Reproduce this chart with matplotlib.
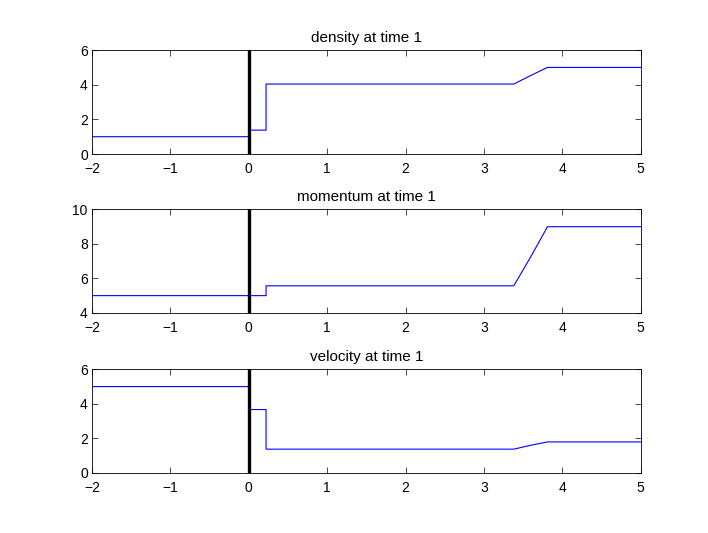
import matplotlib.pyplot as plt

plt.rcParams['font.family'] = ['Liberation Sans', 'DejaVu Sans']
plt.rcParams['axes.unicode_minus'] = True

# profiles at time 1 (piecewise)
x_vals = [-2, 0, 0, 0.22, 0.22, 3.38, 3.59, 3.81, 5]
density = [1.0, 1.0, 1.38, 1.38, 4.04, 4.04, 4.52, 5.0, 5.0]
momentum = [5.0, 5.0, 5.0, 5.0, 5.57, 5.57, 7.2, 9.0, 9.0]
velocity = [5.0, 5.0, 3.67, 3.67, 1.37, 1.37, 1.59, 1.79, 1.79]

titles = ['density at time 1', 'momentum at time 1', 'velocity at time 1']
y_limits = [(0, 6), (4, 10), (0, 6)]
y_ticks = [[0, 2, 4, 6], [4, 6, 8, 10], [0, 2, 4, 6]]
x_ticks = list(range(-2, 6))

fig = plt.figure(figsize=(7.08, 5.33), dpi=100)
# axes rectangles [left, bottom, width, height] in figure fractions
rects = [[0.13, 0.711, 0.775, 0.195],
         [0.13, 0.413, 0.775, 0.194],
         [0.13, 0.113, 0.775, 0.194]]

for rect, series, title, ylim, yt in zip(rects, [density, momentum, velocity], titles, y_limits, y_ticks):
    ax = fig.add_axes(rect)
    ax.plot(x_vals, series, color='#0000ff', lw=0.8)
    ax.axvline(0, color='k', lw=2.4)
    ax.set_xlim(-2, 5)
    ax.set_ylim(*ylim)
    ax.set_xticks(x_ticks)
    ax.set_yticks(yt)
    ax.set_title(title, fontsize=11, pad=6)
    ax.tick_params(direction='in', length=4, width=0.5, labelsize=10, top=True, right=True)
    ax.tick_params(axis='x', pad=6)
    ax.tick_params(axis='y', pad=3)
    for sp in ax.spines.values():
        sp.set_linewidth(0.6)

fig.savefig('out.png', dpi=100)
